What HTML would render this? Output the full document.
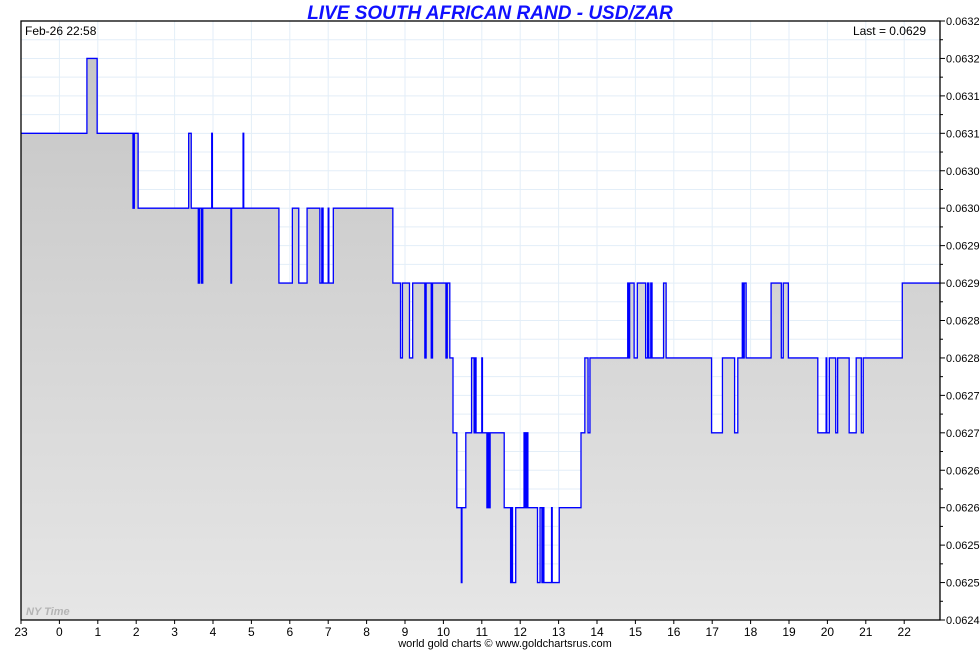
<!DOCTYPE html>
<html><head><meta charset="utf-8"><style>
body{margin:0;background:#fff;width:980px;height:650px;overflow:hidden;font-family:"Liberation Sans",sans-serif}
svg text{font-family:"Liberation Sans",sans-serif}
</style></head><body>
<svg id="c" width="980" height="650" xmlns="http://www.w3.org/2000/svg">
<defs><linearGradient id="g" x1="0" y1="0" x2="0" y2="1"><stop offset="0" stop-color="#c6c6c6"/><stop offset="1" stop-color="#e6e6e6"/></linearGradient></defs>
<text x="490" y="19" text-anchor="middle" font-size="19" font-weight="bold" font-style="italic" fill="#1010ff">LIVE SOUTH AFRICAN RAND - USD/ZAR</text>
<g id="grid"></g><g id="series"></g><g id="axes"></g>
<rect x="21" y="21" width="919" height="599" fill="none" stroke="#000" stroke-width="1.3"/>
<text x="25" y="35" font-size="12" fill="#000">Feb-26  22:58</text>
<text x="926" y="35" text-anchor="end" font-size="12" fill="#000">Last = 0.0629</text>
<text x="26" y="615" font-size="11" font-weight="bold" font-style="italic" fill="#b4b4b4">NY Time</text>
<text x="505" y="647" text-anchor="middle" font-size="11" fill="#000">world gold charts © www.goldchartsrus.com</text>
</svg>
<script>
// minutes since 23:00 previous day
const times=[0,103,119,175,177,183,262,266,277,279,282,284,298,299,328,329,347,348,403,424,434,447,467,470,472,480,481,488,581,593,596,607,612,631,633,641,643,664,666,670,675,681,688,689,695,704,708,710,711,720,721,728,729,731,733,755,765,767,768,773,786,788,790,792,807,811,814,815,817,829,830,841,875,881,886,889,948,950,951,958,963,976,979,981,984,986,1004,1008,1079,1096,1115,1120,1127,1129,1130,1133,1172,1188,1191,1199,1245,1258,1259,1263,1273,1276,1294,1305,1313,1316,1377];
const levels=[13,15,13,11,13,11,13,11,9,11,9,11,13,11,9,11,13,11,9,11,9,11,9,11,9,11,9,11,9,7,9,7,9,7,9,7,9,7,9,7,5,3,1,3,5,7,5,7,5,7,5,3,5,3,5,3,1,3,1,3,5,3,5,3,1,3,1,3,1,3,1,3,5,7,5,7,9,7,9,7,9,7,9,7,9,7,9,7,5,7,5,7,9,7,9,7,9,7,9,7,5,7,5,7,5,7,5,7,5,7,9];
const prices=levels.map(l=>0.0624+l*0.00005);
const endTime=1436;
const yMin=0.0624,yMax=0.0632;
const yTickLabels=["0.0632","0.0632","0.0631","0.0631","0.0630","0.0630","0.0629","0.0629","0.0628","0.0628","0.0627","0.0627","0.0626","0.0626","0.0625","0.0625","0.0624"];
const xTickLabels=["23","0","1","2","3","4","5","6","7","8","9","10","11","12","13","14","15","16","17","18","19","20","21","22"];
const L=21,R=940,T=21,B=620,ppm=38.4/60;
const xs=t=>L+t*ppm, ys=v=>B-(v-yMin)/(yMax-yMin)*(B-T);
const NS="http://www.w3.org/2000/svg";
function mk(tag,at,parent){const e=document.createElementNS(NS,tag);for(const k in at)e.setAttribute(k,at[k]);document.getElementById(parent).appendChild(e);return e;}
for(let i=0;i<=32;i++){const y=T+i*(B-T)/32;const e=mk('line',{x1:L,x2:R,y1:y,y2:y,stroke:'#e3eef8','stroke-width':1},'grid');

}
for(let i=0;i<xTickLabels.length;i++){const x=xs(i*60);const e=mk('line',{x1:x,x2:x,y1:T,y2:B,stroke:'#e3eef8','stroke-width':1},'grid');

}
let d='M'+xs(times[0])+','+ys(prices[0]);
for(let i=1;i<times.length;i++){d+=' H'+xs(times[i])+' V'+ys(prices[i]);}
d+=' H'+xs(endTime);
const area=mk('path',{d:d+' V'+B+' H'+L+' Z',fill:'url(#g)',stroke:'none'},'series');


const line=mk('path',{d:d,fill:'none',stroke:'#0000ff','stroke-width':1.3},'series');


for(let i=0;i<yTickLabels.length;i++){const y=T+i*(B-T)/16;
const t=mk('line',{x1:R,x2:R+5,y1:y,y2:y,stroke:'#000'},'axes');


const tx=mk('text',{x:R+6,y:y+4,'font-size':11,fill:'#000'},'axes');tx.textContent=yTickLabels[i];


if(i<16){const m=mk('line',{x1:R,x2:R+3,y1:y+(B-T)/32,y2:y+(B-T)/32,stroke:'#000'},'axes');

}}
for(let i=0;i<xTickLabels.length;i++){const x=xs(i*60);
const t=mk('line',{x1:x,x2:x,y1:B,y2:B+4,stroke:'#000'},'axes');


const tx=mk('text',{x:x,y:B+16,'font-size':12,fill:'#000','text-anchor':'middle'},'axes');tx.textContent=xTickLabels[i];

}
</script>
</body></html>
